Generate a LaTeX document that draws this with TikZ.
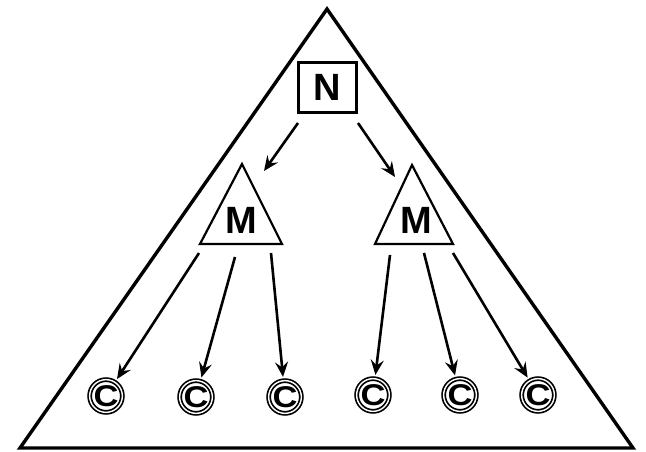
\documentclass[tikz,border=0pt]{standalone}
\usepackage{fontspec}
\setmainfont{Liberation Sans}
\usetikzlibrary{arrows.meta}
\tikzset{
  big/.style={line width=3.4pt, line join=miter},
  mtri/.style={line width=2.2pt, line join=miter},
  nbox/.style={draw, line width=2.4pt, minimum width=58pt, minimum height=50pt, inner sep=0pt,
    font=\fontsize{38}{38}\selectfont\bfseries},
  mlabel/.style={inner sep=0pt, font=\fontsize{38}{38}\selectfont\bfseries},
  cnode/.style={circle, draw, double, line width=1.7pt, double distance=1.4pt,
    minimum size=32pt, inner sep=0pt, font=\fontsize{30}{30}\selectfont\bfseries},
  arr/.style={line width=2.6pt, -{Stealth[length=15pt,width=13pt,inset=5.5pt]}},
}
\newcommand{\cglyph}{\scalebox{1.15}[1]{C}}
\begin{document}
\begin{tikzpicture}[x=1pt,y=-1pt]
\useasboundingbox (0,0) rectangle (646,452);
% outer triangle
\coordinate (apex) at (327,9);
\coordinate (bl) at (20,448);
\coordinate (br) at (633,448);
\draw[big] (apex) -- (bl) -- (br) -- cycle;
% N box
\node[nbox] (N) at (327.5,87.5) {N};
% M triangles
\coordinate (mLa) at (242,164);
\coordinate (mLl) at (200,244);
\coordinate (mLr) at (282,244);
\draw[mtri] (mLa) -- (mLl) -- (mLr) -- cycle;
\node[mlabel] (ML) at (241,220) {M};
\coordinate (mRa) at (412,165);
\coordinate (mRl) at (375,244);
\coordinate (mRr) at (453,244);
\draw[mtri] (mRa) -- (mRl) -- (mRr) -- cycle;
\node[mlabel] (MR) at (416,220) {M};
% C nodes
\node[cnode] (C1) at (106,396) {\cglyph};
\node[cnode] (C2) at (196,397) {\cglyph};
\node[cnode] (C3) at (285,397) {\cglyph};
\node[cnode] (C4) at (373,395) {\cglyph};
\node[cnode] (C5) at (460,395) {\cglyph};
\node[cnode] (C6) at (538,395) {\cglyph};
% arrows from N
\coordinate (nL) at (298,123);
\coordinate (nR) at (358,123);
\coordinate (tL) at (264,171);
\coordinate (tR) at (395,177);
\draw[arr] (nL) -- (tL);
\draw[arr] (nR) -- (tR);
% arrows from M
\coordinate (s1) at (199,253);
\coordinate (s2) at (235,257);
\coordinate (s3) at (271,253);
\coordinate (s4) at (390,255);
\coordinate (s5) at (424,253);
\coordinate (s6) at (453,253);
\draw[arr, shorten >=3pt] (s1) -- (C1);
\draw[arr, shorten >=3pt] (s2) -- (C2);
\draw[arr, shorten >=3pt] (s3) -- (C3);
\draw[arr, shorten >=3pt] (s4) -- (C4);
\draw[arr, shorten >=3pt] (s5) -- (C5);
\draw[arr, shorten >=3pt] (s6) -- (C6);
\end{tikzpicture}
\end{document}
